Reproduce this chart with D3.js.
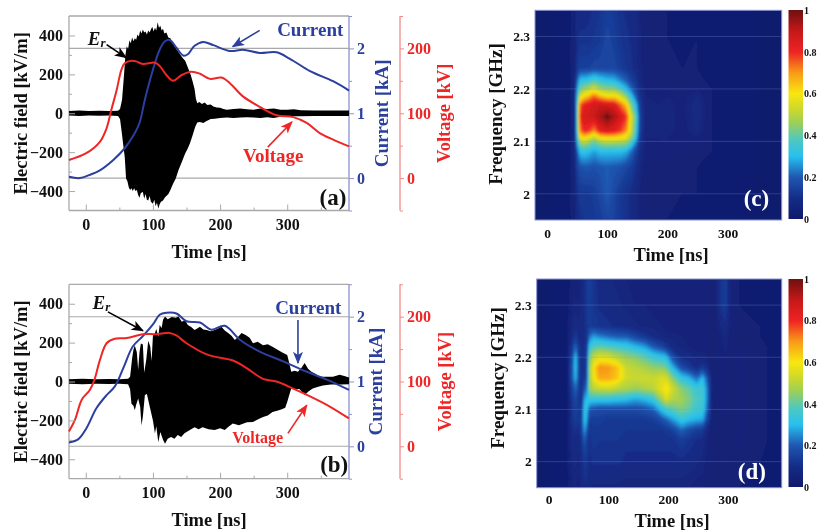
<!DOCTYPE html>
<html><head><meta charset="utf-8">
<script src="https://cdnjs.cloudflare.com/ajax/libs/d3/7.8.5/d3.min.js"></script>
<style>
html,body{margin:0;padding:0;background:#fff;overflow:hidden}
svg{display:block}
text{font-family:"Liberation Serif","Times New Roman",serif;font-weight:bold}
.soft{filter:blur(0.45px)}
</style></head><body>
<svg id="chart" width="817" height="531"></svg>
<script>
// ---------- tick labels ----------
const timeTicks=[0,100,200,300], timeMinor=[50,150,250,350];
const fieldTicks=[-400,-200,0,200,400], fieldMinor=[-300,-100,100,300];
const currentTicks=[0,1,2], currentMinor=[-0.5,0.5,1.5,2.5];
const voltageTicks=[0,100,200], voltageMinor=[-50,50,150,250];
const freqTicks=[2,2.1,2.2,2.3];
const cbarTicks=[0,0.2,0.4,0.6,0.8,1];

// ---------- panel (a) ----------
const aUpT=[-25,-10,5,20,35,48,51,54,57,59,61,63,65,67,69,71,73,75,77,79,81,83,85,87,89,91,93,95,97,99,101,103,105,107,109,111,113,115,117,120,123,126,129,132,136,140,144,148,152,156,159,162,164,166,169,173,177,181,186,190,195,200,205,210,220,230,240,250,260,270,280,290,300,310,320,340,360,380,392];
const aUpV=[12,14,11,13,12,13,22,70,200,300,345,330,375,360,390,370,385,378,405,395,425,410,430,415,420,405,425,415,430,445,420,440,425,468,440,450,425,435,410,415,390,385,360,345,325,305,285,270,235,200,165,125,75,52,58,48,55,42,45,35,30,28,22,18,22,25,20,18,25,22,25,18,18,20,15,14,14,14,14];
const aLoT=[-25,-10,5,20,35,48,51,54,56,58,60,62,64,66,68,70,72,74,76,78,80,82,85,87,89,91,93,95,97,100,102,104,106,108,110,112,115,118,120,123,126,130,134,138,143,148,152,155,159,163,166,170,175,180,186,192,200,210,220,230,240,250,260,270,280,290,300,320,340,360,380,392];
const aLoV=[-12,-14,-11,-13,-12,-14,-30,-110,-170,-225,-335,-350,-380,-395,-385,-400,-385,-400,-395,-420,-434,-410,-405,-440,-415,-445,-449,-425,-455,-465,-445,-478,-460,-490,-468,-455,-449,-432,-425,-415,-395,-362,-335,-293,-250,-207,-180,-155,-115,-70,-48,-45,-50,-40,-30,-28,-25,-22,-25,-22,-20,-22,-24,-20,-24,-18,-16,-16,-14,-14,-14,-14];
const aVoltT=[-25,0,21,31,38,46,53,58,68,75,85,103,110,120,130,143,157,170,185,202,215,234,259,284,309,329,349,369,392];
const aVoltV=[28,38,56,77,105,136,167,177,181,180,176,178,173,159,150,159,164,161,153,155,146,126,110,97,94,85,69,59,49];
const aCurrT=[-25,-9,6,21,41,58,70,80,88,100,110,118,125,135,145,152,162,175,190,215,234,259,284,304,334,369,392];
const aCurrV=[0.02,0,0.05,0.12,0.28,0.46,0.64,0.85,1.21,1.67,1.98,2.11,2.13,2.01,1.89,1.91,2.04,2.10,2.05,1.96,1.98,1.93,1.94,1.84,1.65,1.49,1.35];

// ---------- panel (b) ----------
const bUpT=[-25,-5,15,35,50,63,66,69,71,73,76,78,80,82,85,87,90,93,96,98,100,103,105,108,110,113,115,118,122,128,134,138,143,148,152,157,162,166,170,175,180,186,192,197,202,207,212,217,222,227,232,238,244,249,256,264,271,278,285,292,300,303,306,311,316,321,326,331,336,342,348,358,368,378,385,392];
const bUpV=[12,14,11,13,12,14,24,120,165,185,150,60,150,195,190,45,110,210,180,105,235,250,270,230,290,275,318,335,320,332,328,335,308,315,291,280,265,272,281,268,265,258,265,272,281,262,249,235,214,230,249,239,225,197,205,187,192,179,165,151,136,95,50,55,50,70,95,65,50,40,25,25,25,35,28,20];
const bLoT=[-25,-5,15,35,50,63,66,68,71,73,75,78,81,83,85,88,91,94,97,100,103,105,108,111,115,118,122,127,132,137,142,147,155,162,168,174,183,192,200,207,213,219,228,240,249,256,264,271,278,285,292,297,300,303,306,312,318,326,332,338,345,353,365,380,392];
const bLoV=[-12,-14,-11,-13,-12,-14,-40,-114,-125,-148,-120,-87,-130,-226,-180,-70,-64,-110,-155,-200,-267,-230,-312,-260,-300,-320,-295,-286,-295,-275,-285,-266,-250,-235,-245,-235,-245,-250,-240,-250,-232,-216,-225,-210,-208,-195,-183,-175,-157,-150,-143,-135,-105,-70,-36,-40,-38,-70,-50,-36,-28,-20,-16,-15,-14];
const bVoltT=[-25,-16,-6,6,13,21,31,43,61,85,105,125,135,150,182,220,239,264,284,309,334,364,392];
const bVoltV=[23,41,72,87,103,133,159,166,167,173,173,175,171,159,141,132,121,104,100,89,77,61,43];
const bCurrT=[-25,-11,1,16,31,43,56,70,85,100,110,120,135,150,170,187,207,230,259,294,329,359,392];
const bCurrV=[0.06,0.11,0.28,0.59,0.79,0.92,1.21,1.54,1.70,1.88,2.03,2.06,2.05,1.93,1.91,1.80,1.86,1.64,1.46,1.31,1.15,1.03,0.87];

// ---------- panel (c): spectrogram, one profile per time, low to high frequency ----------
const cFreq=[1.95,2.0,2.05,2.08,2.095,2.106,2.12,2.147,2.17,2.185,2.2,2.217,2.24,2.3,2.35];
const cTime=[-20,35,45,50,55,62,70,78,88,100,112,122,132,140,148,154,165,185,200,225,250,275,300,390];
const cGrid=[
[.01,.01,.01,.01,.01,.01,.01,.01,.01,.01,.01,.01,.01,.01,.01],
[.02,.02,.02,.02,.02,.02,.02,.02,.02,.02,.02,.02,.02,.02,.02],
[.05,.06,.06,.06,.06,.06,.06,.06,.06,.06,.06,.06,.06,.05,.05],
[.09,.11,.15,.2,.26,.3,.33,.33,.33,.3,.26,.2,.13,.1,.09],
[.11,.13,.18,.31,.43,.56,.72,.8,.74,.56,.42,.31,.15,.11,.09],
[.12,.13,.19,.32,.46,.61,.8,.86,.82,.63,.46,.31,.15,.11,.09],
[.12,.13,.19,.3,.42,.55,.78,.87,.84,.68,.5,.33,.15,.11,.1],
[.13,.14,.18,.27,.38,.48,.7,.88,.87,.75,.55,.37,.16,.12,.11],
[.14,.16,.19,.3,.43,.58,.82,.93,.88,.68,.47,.33,.16,.13,.12],
[.16,.2,.2,.3,.45,.6,.85,1,.86,.62,.45,.3,.16,.16,.14],
[.15,.16,.19,.3,.44,.6,.83,.93,.84,.63,.44,.29,.16,.14,.13],
[.13,.13,.18,.3,.44,.58,.78,.86,.74,.56,.38,.24,.14,.12,.11],
[.11,.11,.16,.28,.42,.55,.7,.78,.64,.45,.3,.2,.12,.11,.1],
[.1,.1,.14,.22,.34,.45,.52,.55,.42,.33,.22,.15,.11,.1,.09],
[.08,.08,.11,.15,.22,.3,.35,.38,.3,.2,.15,.12,.09,.09,.08],
[.06,.06,.08,.1,.12,.13,.15,.16,.14,.12,.1,.08,.07,.07,.06],
[.03,.03,.04,.05,.05,.06,.06,.06,.06,.06,.05,.05,.04,.03,.03],
[.03,.03,.04,.05,.05,.06,.06,.06,.06,.05,.04,.04,.03,.03,.03],
[.03,.03,.04,.05,.06,.06,.07,.07,.07,.06,.05,.04,.03,.03,.03],
[.02,.03,.03,.04,.05,.05,.05,.05,.05,.05,.04,.03,.03,.02,.02],
[.02,.03,.03,.04,.05,.06,.08,.09,.09,.08,.06,.04,.03,.03,.02],
[.02,.02,.02,.03,.03,.03,.03,.03,.03,.03,.03,.02,.02,.02,.02],
[.02,.02,.02,.02,.02,.02,.02,.02,.02,.02,.02,.02,.02,.02,.02],
[.01,.01,.01,.01,.01,.01,.01,.01,.01,.01,.01,.01,.01,.01,.01]];

// ---------- panel (d): spectrogram, one profile per time, low to high frequency ----------
const dFreq=[1.95,2.0,2.04,2.06,2.08,2.10,2.12,2.14,2.16,2.18,2.20,2.22,2.24,2.26,2.30,2.35];
const dTime=[-20,30,40,45,50,55,60,64,68,75,85,100,115,130,145,160,175,190,197,205,222,235,248,258,266,275,288,296,305,320,390];
const dGrid=[
[.01,.01,.01,.01,.01,.01,.01,.01,.01,.01,.01,.01,.01,.01,.01,.01],
[.02,.03,.03,.03,.03,.03,.03,.03,.03,.03,.03,.03,.03,.03,.02,.02],
[.06,.08,.1,.1,.12,.13,.14,.16,.2,.2,.18,.14,.1,.08,.06,.04],
[.06,.08,.1,.12,.14,.15,.17,.22,.3,.33,.32,.22,.14,.1,.07,.05],
[.05,.07,.08,.09,.12,.13,.13,.15,.17,.17,.16,.13,.1,.08,.06,.05],
[.08,.1,.12,.15,.15,.13,.1,.1,.1,.1,.1,.1,.09,.08,.08,.07],
[.1,.13,.2,.27,.33,.34,.28,.2,.14,.12,.12,.11,.1,.1,.1,.1],
[.1,.12,.15,.2,.27,.3,.3,.22,.16,.15,.14,.13,.12,.12,.13,.14],
[.08,.1,.11,.12,.14,.2,.34,.45,.45,.45,.42,.33,.22,.14,.14,.15],
[.07,.11,.13,.13,.14,.18,.34,.5,.58,.6,.52,.38,.27,.13,.12,.12],
[.07,.11,.12,.13,.14,.17,.33,.52,.68,.71,.56,.4,.24,.12,.1,.09],
[.07,.11,.12,.12,.13,.17,.33,.53,.68,.7,.55,.38,.22,.11,.09,.08],
[.07,.11,.12,.12,.13,.17,.32,.5,.64,.65,.5,.36,.2,.1,.08,.07],
[.06,.1,.11,.12,.13,.17,.31,.48,.53,.52,.46,.34,.2,.09,.07,.06],
[.06,.1,.11,.12,.13,.17,.28,.46,.52,.5,.44,.3,.16,.08,.06,.05],
[.06,.1,.11,.12,.13,.18,.3,.48,.53,.48,.4,.27,.13,.07,.06,.05],
[.06,.1,.11,.12,.14,.21,.34,.5,.52,.45,.35,.2,.1,.07,.05,.05],
[.06,.1,.11,.12,.18,.32,.48,.57,.55,.44,.32,.16,.08,.06,.05,.05],
[.06,.1,.11,.13,.21,.36,.55,.62,.54,.42,.3,.13,.07,.05,.05,.05],
[.06,.1,.11,.14,.25,.38,.5,.55,.46,.32,.2,.1,.07,.05,.05,.05],
[.06,.1,.14,.21,.33,.43,.47,.44,.33,.18,.1,.07,.06,.05,.05,.05],
[.06,.09,.12,.17,.3,.4,.43,.4,.29,.14,.09,.06,.05,.05,.05,.05],
[.05,.08,.1,.14,.28,.35,.37,.34,.22,.1,.07,.05,.05,.05,.05,.05],
[.05,.07,.09,.13,.27,.34,.36,.35,.3,.14,.07,.05,.05,.05,.05,.05],
[.04,.05,.06,.08,.15,.2,.22,.22,.18,.1,.06,.05,.05,.05,.05,.05],
[.03,.03,.03,.03,.04,.04,.04,.04,.04,.03,.03,.03,.03,.03,.03,.03],
[.03,.04,.04,.04,.04,.05,.05,.05,.05,.05,.05,.05,.06,.08,.12,.12],
[.04,.05,.05,.05,.05,.06,.06,.06,.06,.06,.06,.07,.08,.1,.14,.14],
[.03,.04,.04,.04,.04,.04,.04,.04,.04,.04,.04,.04,.05,.05,.06,.06],
[.03,.04,.05,.05,.05,.05,.05,.05,.05,.05,.05,.05,.04,.04,.03,.03],
[.02,.02,.02,.02,.02,.02,.02,.02,.02,.02,.02,.02,.02,.02,.02,.02]];

// ---------- colour map ----------
const cmapStops=[0,.1,.2,.3,.38,.46,.53,.6,.7,.8,.9,1];
const cmapCols=["#10196b","#142c86","#1f57b2","#27c0ee","#4fc8c0","#9ccf58","#d0d928","#f8e70f","#f89a18","#ee2323","#c51818","#6e1010"];

// ---------- palette ----------
const BLUE="#2b3f9f", RED="#ee2626", GRAY="#a9a9a9", PALEBLUE="#8a92d2", PALERED="#f18a8a";

const svg=d3.select("#chart");
const root=svg.append("g").attr("class","soft");
const defs=svg.append("defs");
const cmap=d3.scaleLinear().domain(cmapStops).range(cmapCols).clamp(true);

function marker(id,col){
  defs.append("marker").attr("id",id).attr("viewBox","0 0 10 8").attr("refX",9).attr("refY",4)
   .attr("markerUnits","userSpaceOnUse").attr("markerWidth",13).attr("markerHeight",10).attr("orient","auto")
   .append("path").attr("d","M0,0L10,4L0,8L2.5,4Z").attr("fill",col);
}
marker("hk","#000");marker("hb",BLUE);marker("hr",RED);

defs.append("filter").attr("id","heatblur").attr("x","-5%").attr("y","-5%").attr("width","110%").attr("height","110%")
  .append("feGaussianBlur").attr("stdDeviation",1.3);

function styleAxis(g,col,size,lineCol){
  g.select(".domain").remove();
  g.selectAll(".tick line").attr("stroke",lineCol||col).attr("stroke-width",1);
  g.selectAll("text").attr("fill",col).attr("font-size",size)
   .style("font-family",'"Liberation Serif",serif').style("font-weight","bold");
}
function label(g,txt,x,y,size,col,rot,anchor){
  const t=g.append("text").attr("font-size",size).attr("fill",col||"#111")
    .attr("text-anchor",anchor||"middle").attr("dominant-baseline","central").text(txt);
  t.attr("transform",`translate(${x},${y})`+(rot?` rotate(${rot})`:""));
  return t;
}

function wavePanel(c){
  const g=root.append("g");
  const x=d3.scaleLinear().domain([-25,392]).range([c.x0,c.x1]);
  const yE=d3.scaleLinear().domain([-500,500]).range([c.y1,c.y0]);
  const yI=d3.scaleLinear().domain([-0.5,2.5]).range([c.y1,c.y0]);
  const yV=d3.scaleLinear().domain([-50,250]).range([c.y1,c.y0]);
  const voltX=c.voltX;
  // frame
  g.append("line").attr("x1",c.x0).attr("x2",c.x1).attr("y1",c.y0).attr("y2",c.y0).attr("stroke",GRAY).attr("stroke-width",1.3);
  g.append("line").attr("x1",c.x0).attr("x2",c.x1).attr("y1",c.y1).attr("y2",c.y1).attr("stroke",GRAY).attr("stroke-width",1.3);
  g.append("line").attr("x1",c.x0).attr("x2",c.x0).attr("y1",c.y0).attr("y2",c.y1).attr("stroke",GRAY).attr("stroke-width",1.3);
  g.append("line").attr("x1",c.x1).attr("x2",c.x1).attr("y1",c.y0).attr("y2",c.y1).attr("stroke",PALEBLUE).attr("stroke-width",1.3);
  g.append("line").attr("x1",voltX).attr("x2",voltX).attr("y1",c.y0).attr("y2",c.y1).attr("stroke",PALERED).attr("stroke-width",1.3);
  // grey level lines at current 0 and 2
  g.selectAll(".lvl").data([0,2]).join("line").attr("x1",c.x0).attr("x2",c.x1)
    .attr("y1",d=>yI(d)).attr("y2",d=>yI(d)).attr("stroke",GRAY).attr("stroke-width",1.1);
  // field envelope: the two halves overlap across zero so no seam shows
  const up=d3.area().x((d,i)=>x(c.upT[i])).y0(yE(-6)).y1(d=>yE(d));
  const lo=d3.area().x((d,i)=>x(c.loT[i])).y0(yE(6)).y1(d=>yE(d));
  g.append("path").attr("d",up(c.upV)).attr("fill","#000");
  g.append("path").attr("d",lo(c.loV)).attr("fill","#000");
  // lines
  const lineI=d3.line().x((d,i)=>x(c.curT[i])).y(d=>yI(d)).curve(d3.curveCatmullRom.alpha(.5));
  const lineV=d3.line().x((d,i)=>x(c.volT[i])).y(d=>yV(d)).curve(d3.curveCatmullRom.alpha(.5));
  g.append("path").attr("d",lineI(c.curV)).attr("fill","none").attr("stroke",BLUE).attr("stroke-width",2);
  g.append("path").attr("d",lineV(c.volV)).attr("fill","none").attr("stroke",RED).attr("stroke-width",2);
  // axes
  const gx=g.append("g").attr("transform",`translate(0,${c.y1})`)
    .call(d3.axisBottom(x).tickValues(timeTicks).tickFormat(d3.format("d")).tickSize(-6).tickPadding(0));
  styleAxis(gx,"#111",16,GRAY);
  gx.selectAll("text").attr("y",c.xTickY-c.y1).attr("dy",0).attr("dominant-baseline","central");
  const gxm=g.append("g").attr("transform",`translate(0,${c.y1})`).call(d3.axisBottom(x).tickValues(timeMinor).tickFormat("").tickSize(-3));
  styleAxis(gxm,"#111",16,GRAY);
  const gl=g.append("g").attr("transform",`translate(${c.x0},0)`)
    .call(d3.axisLeft(yE).tickValues(fieldTicks).tickFormat(d3.format("d")).tickSize(-6).tickPadding(6));
  styleAxis(gl,"#111",16,GRAY);
  const glm=g.append("g").attr("transform",`translate(${c.x0},0)`).call(d3.axisLeft(yE).tickValues(fieldMinor).tickFormat("").tickSize(-3));
  styleAxis(glm,"#111",16,GRAY);
  const gi=g.append("g").attr("transform",`translate(${c.x1},0)`)
    .call(d3.axisRight(yI).tickValues(currentTicks).tickFormat(d3.format("d")).tickSize(5).tickPadding(3));
  styleAxis(gi,BLUE,16,PALEBLUE);
  const gim=g.append("g").attr("transform",`translate(${c.x1},0)`).call(d3.axisRight(yI).tickValues(currentMinor).tickFormat("").tickSize(3));
  styleAxis(gim,BLUE,16,PALEBLUE);
  const gv=g.append("g").attr("transform",`translate(${voltX},0)`)
    .call(d3.axisRight(yV).tickValues(voltageTicks).tickFormat(d3.format("d")).tickSize(4).tickPadding(3));
  styleAxis(gv,RED,16,PALERED);
  const gvm=g.append("g").attr("transform",`translate(${voltX},0)`).call(d3.axisRight(yV).tickValues(voltageMinor).tickFormat("").tickSize(3));
  styleAxis(gvm,RED,16,PALERED);
  // titles
  label(g,"Electric field [kV/m]",21,yE(0),18.5,"#111",-90);
  label(g,"Current [kA]",c.curLblX,yE(0),19,BLUE,-90);
  label(g,"Voltage [kV]",c.volLblX,yE(0),18.5,RED,-90);
  label(g,"Time [ns]",209,c.xLblY,18.5,"#111");
  // annotations
  c.arrows.forEach(a=>{
    g.append("line").attr("x1",x(a[0])).attr("y1",yE(a[1])).attr("x2",x(a[2])).attr("y2",yE(a[3]))
     .attr("stroke",a[4]).attr("stroke-width",1.6).attr("marker-end",`url(#${a[5]})`);
  });
  const er=g.append("text").attr("x",x(c.er[0])).attr("y",yE(c.er[1])).attr("font-size",19).attr("fill","#111").attr("font-style","italic").attr("dominant-baseline","central");
  er.append("tspan").text("E");
  er.append("tspan").text("r").attr("font-size",13).attr("dy",4);
  label(g,"Current",x(c.curTxt[0]),yE(c.curTxt[1]),c.curFs,BLUE,0,"start");
  label(g,"Voltage",x(c.volTxt[0]),yE(c.volTxt[1]),c.volFs,RED,0,"start");
  label(g,c.tag,x(c.tagAt[0]),yE(c.tagAt[1]),23,"#111");
}

wavePanel({x0:69,x1:349,y0:16,y1:210.5,voltX:400,xTickY:224,xLblY:252,curLblX:381,volLblX:444,
  upT:aUpT,upV:aUpV,loT:aLoT,loV:aLoV,curT:aCurrT,curV:aCurrV,volT:aVoltT,volV:aVoltV,
  er:[3,385],curTxt:[285,431],volTxt:[234,-216],tagAt:[368,-433],tag:"(a)",curFs:19,volFs:19,
  arrows:[[31,353,60,286,"#000","hk"],[259,426,219,343,BLUE,"hb"],[271,-174,307,-45,RED,"hr"]]});
wavePanel({x0:69,x1:349,y0:284.3,y1:478.7,voltX:400,xTickY:493,xLblY:520,curLblX:375,volLblX:445,
  upT:bUpT,upV:bUpV,loT:bLoT,loV:bLoV,curT:bCurrT,curV:bCurrV,volT:bVoltT,volV:bVoltV,
  er:[10,410],curTxt:[282,379],volTxt:[218,-288],tagAt:[370,-428],tag:"(b)",curFs:19,volFs:16,
  arrows:[[33,358,85,261,"#000","hk"],[316,317,316,95,BLUE,"hb"],[301,-267,329,-122,RED,"hr"]]});

let clipN=0;
function heatPanel(c){
  const g=root.append("g");
  const x=d3.scaleLinear().domain([-20,390]).range([c.x0,c.x1]);
  const y=d3.scaleLinear().domain([1.95,2.35]).range([c.y1,c.y0]);
  const id="clip"+(clipN++);
  defs.append("clipPath").attr("id",id).append("rect").attr("x",c.x0).attr("y",c.y0).attr("width",c.x1-c.x0).attr("height",c.y1-c.y0);
  const clip=g.append("g").attr("clip-path",`url(#${id})`);
  clip.append("rect").attr("x",c.x0).attr("y",c.y0).attr("width",c.x1-c.x0).attr("height",c.y1-c.y0).attr("fill",cmap(0));
  const nx=c.times.length, ny=c.freqs.length;
  const values=[];
  for(let j=0;j<ny;j++) for(let i=0;i<nx;i++) values.push(c.grid[i][j]);
  const t2=d3.scaleLinear().domain(d3.range(nx)).range(c.times).clamp(true);
  const f2=d3.scaleLinear().domain(d3.range(ny)).range(c.freqs).clamp(true);
  const path=d3.geoPath(d3.geoTransform({point(a,b){this.stream.point(x(t2(a-0.5)),y(f2(b-0.5)));}}));
  const thresholds=d3.range(0,1.0001,0.015);
  const cont=d3.contours().size([nx,ny]).thresholds(thresholds)(values);
  clip.append("g").attr("filter","url(#heatblur)").selectAll("path").data(cont).join("path")
    .attr("d",path).attr("fill",d=>cmap(d.value+0.0075));
  // faint grid lines
  g.selectAll(".gl").data(freqTicks).join("line").attr("x1",c.x0).attr("x2",c.x1)
    .attr("y1",d=>y(d)).attr("y2",d=>y(d)).attr("stroke","#7f9be0").attr("stroke-opacity",.28).attr("stroke-width",1);
  g.append("rect").attr("x",c.x0).attr("y",c.y0).attr("width",c.x1-c.x0).attr("height",c.y1-c.y0)
    .attr("fill","none").attr("stroke",PALEBLUE).attr("stroke-width",1);
  // axes
  const gx=g.append("g").attr("transform",`translate(0,${c.y1})`)
    .call(d3.axisBottom(x).tickValues(timeTicks).tickFormat(d3.format("d")).tickSize(0).tickPadding(0));
  styleAxis(gx,"#111",13.5);
  gx.selectAll("text").attr("y",c.xTickY-c.y1).attr("dy",0).attr("dominant-baseline","central");
  const gy=g.append("g").attr("transform",`translate(${c.x0},0)`)
    .call(d3.axisLeft(y).tickValues(freqTicks).tickFormat(d=>d===2?"2":d3.format(".1f")(d)).tickSize(0).tickPadding(5));
  styleAxis(gy,"#111",13.5);
  label(g,"Frequency [GHz]",c.yLblX,c.yLblY,19,"#111",-90);
  label(g,"Time [ns]",c.xLblX,c.xLblY,18.5,"#111");
  label(g,c.tag,x(c.tagAt[0]),y(c.tagAt[1]),23,"#fff");
  // colour bar
  const cb=d3.scaleLinear().domain([0,1]).range([c.cb1,c.cb0]);
  const gid="cbar"+clipN;
  const grad=defs.append("linearGradient").attr("id",gid).attr("x1",0).attr("x2",0).attr("y1",1).attr("y2",0);
  cmapStops.forEach((s,i)=>grad.append("stop").attr("offset",s).attr("stop-color",cmapCols[i]));
  g.append("rect").attr("x",788.5).attr("width",14.5).attr("y",c.cb0).attr("height",c.cb1-c.cb0).attr("fill",`url(#${gid})`);
  const gc=g.append("g").attr("transform","translate(803,0)")
    .call(d3.axisRight(cb).tickValues(cbarTicks).tickFormat(d=>d).tickSize(0).tickPadding(1));
  styleAxis(gc,"#111",10);
}
heatPanel({x0:535,x1:781.7,y0:10.3,y1:220,xTickY:233,xLblX:671,xLblY:255,yLblX:495,yLblY:114,
  times:cTime,freqs:cFreq,grid:cGrid,tag:"(c)",tagAt:[348,1.991],cb0:10,cb1:219});
heatPanel({x0:536.7,x1:781.7,y0:279,y1:487.7,xTickY:500,xLblX:672,xLblY:521,yLblX:497,yLblY:378,
  times:dTime,freqs:dFreq,grid:dGrid,tag:"(d)",tagAt:[340,1.981],cb0:279,cb1:487});
</script>
</body></html>
